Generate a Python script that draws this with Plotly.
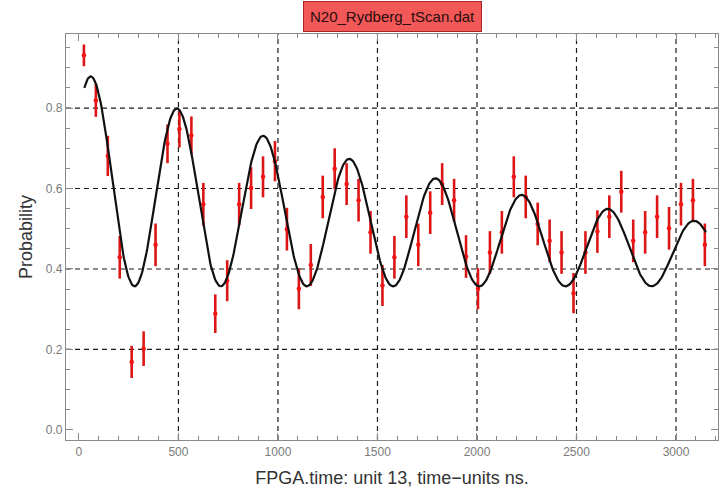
import numpy as np
import plotly.graph_objects as go

# ---- data ----
time_ns = [25, 85, 145, 205, 265, 325, 385, 445, 505, 565,
           625, 685, 745, 805, 865, 925, 985, 1045, 1105, 1165,
           1225, 1285, 1345, 1405, 1465, 1525, 1585, 1645, 1705, 1765,
           1825, 1885, 1945, 2005, 2065, 2125, 2185, 2245, 2305, 2365,
           2425, 2485, 2545, 2605, 2665, 2725, 2785, 2845, 2905, 2965,
           3025, 3085, 3145]
probability = [0.931, 0.819, 0.681, 0.429, 0.169, 0.202, 0.460, 0.711, 0.748, 0.732,
               0.561, 0.289, 0.371, 0.561, 0.601, 0.629, 0.668, 0.499, 0.351, 0.410,
               0.579, 0.649, 0.611, 0.571, 0.491, 0.359, 0.429, 0.530, 0.460, 0.540,
               0.611, 0.571, 0.431, 0.351, 0.441, 0.491, 0.629, 0.579, 0.512, 0.470,
               0.441, 0.340, 0.441, 0.493, 0.530, 0.592, 0.470, 0.491, 0.530, 0.501,
               0.561, 0.571, 0.460]
prob_err = [0.027, 0.041, 0.050, 0.053, 0.040, 0.043, 0.053, 0.048, 0.046, 0.047,
            0.053, 0.048, 0.051, 0.053, 0.052, 0.051, 0.050, 0.053, 0.051, 0.052,
            0.053, 0.051, 0.052, 0.053, 0.053, 0.051, 0.053, 0.053, 0.053, 0.053,
            0.052, 0.053, 0.053, 0.051, 0.053, 0.053, 0.051, 0.053, 0.053, 0.053,
            0.053, 0.050, 0.053, 0.053, 0.053, 0.052, 0.053, 0.053, 0.053, 0.053,
            0.053, 0.053, 0.053]

# fitted damped oscillation parameters
fit_offset = 0.357
fit_amplitude = 0.534
fit_decay = 2604.0
fit_period = 433.0
fit_t0 = 63.0

x_ticks = [0, 500, 1000, 1500, 2000, 2500, 3000]
y_ticks = [0.0, 0.2, 0.4, 0.6, 0.8]
x_grid = [500, 1000, 1500, 2000, 2500, 3000]
y_grid = [0.2, 0.4, 0.6, 0.8]

title_text = "N20_Rydberg_tScan.dat"
x_title = "FPGA.time: unit 13, time\u2212units ns."
y_title = "Probability"

t_fit = np.linspace(time_ns[0] + 2, time_ns[-1] + 5, 800)
p_fit = fit_offset + fit_amplitude * np.exp(-t_fit / fit_decay) * (
    1 + np.cos(2 * np.pi * (t_fit - fit_t0) / fit_period)) / 2

FONT = "Liberation Sans, Arial, sans-serif"

fig = go.Figure()
fig.add_trace(go.Scatter(
    x=time_ns, y=probability, mode="markers",
    marker=dict(color="#f01414", size=4.5),
    error_y=dict(type="data", array=prob_err, visible=True,
                 color="#dc1616", thickness=2.6, width=0),
    showlegend=False, hoverinfo="x+y"))
fig.add_trace(go.Scatter(
    x=t_fit, y=p_fit, mode="lines",
    line=dict(color="#111111", width=2.2),
    showlegend=False, hoverinfo="skip"))

shapes = []
for v in x_grid:
    shapes.append(dict(type="line", xref="x", yref="y domain", x0=v, x1=v, y0=0, y1=1,
                       line=dict(color="#1a1a1a", width=1.2, dash="5px,4px"), layer="below"))
for v in y_grid:
    shapes.append(dict(type="line", xref="x domain", yref="y", x0=0, x1=1, y0=v, y1=v,
                       line=dict(color="#1a1a1a", width=1.2, dash="5px,4px"), layer="below"))

axis_common = dict(
    showline=True, linecolor="#8a8a8a", linewidth=1.2, mirror="allticks",
    ticks="inside", ticklen=7, tickwidth=1, tickcolor="#8a8a8a",
    showgrid=False, zeroline=False,
    tickfont=dict(family=FONT, size=12, color="#7a7a7a"),
)

fig.update_layout(
    width=720, height=491,
    margin=dict(l=66, r=2, t=34, b=51),
    paper_bgcolor="white", plot_bgcolor="white",
    shapes=shapes,
    xaxis=dict(range=[-65, 3211], tickvals=x_ticks,
               minor=dict(dtick=100, tick0=0, ticks="inside", ticklen=4, tickcolor="#8a8a8a", showgrid=False),
               title=dict(text=x_title, standoff=13,
                          font=dict(family=FONT, size=18, color="#333333")),
               **axis_common),
    yaxis=dict(range=[-0.025, 0.984], tickvals=y_ticks, tickformat=".1f",
               minor=dict(dtick=0.05, tick0=0, ticks="inside", ticklen=4, tickcolor="#8a8a8a", showgrid=False),
               title=dict(text=y_title, standoff=8,
                          font=dict(family=FONT, size=18, color="#333333")),
               **axis_common),
    annotations=[dict(
        text=title_text, xref="paper", yref="paper", x=0.5, y=1.043,
        xanchor="center", yanchor="middle", showarrow=False,
        bgcolor="#f25858", bordercolor="#a82424", borderwidth=1, borderpad=6,
        font=dict(family=FONT, size=15, color="#2a0d0d"))],
)

fig.write_html("out.html")
